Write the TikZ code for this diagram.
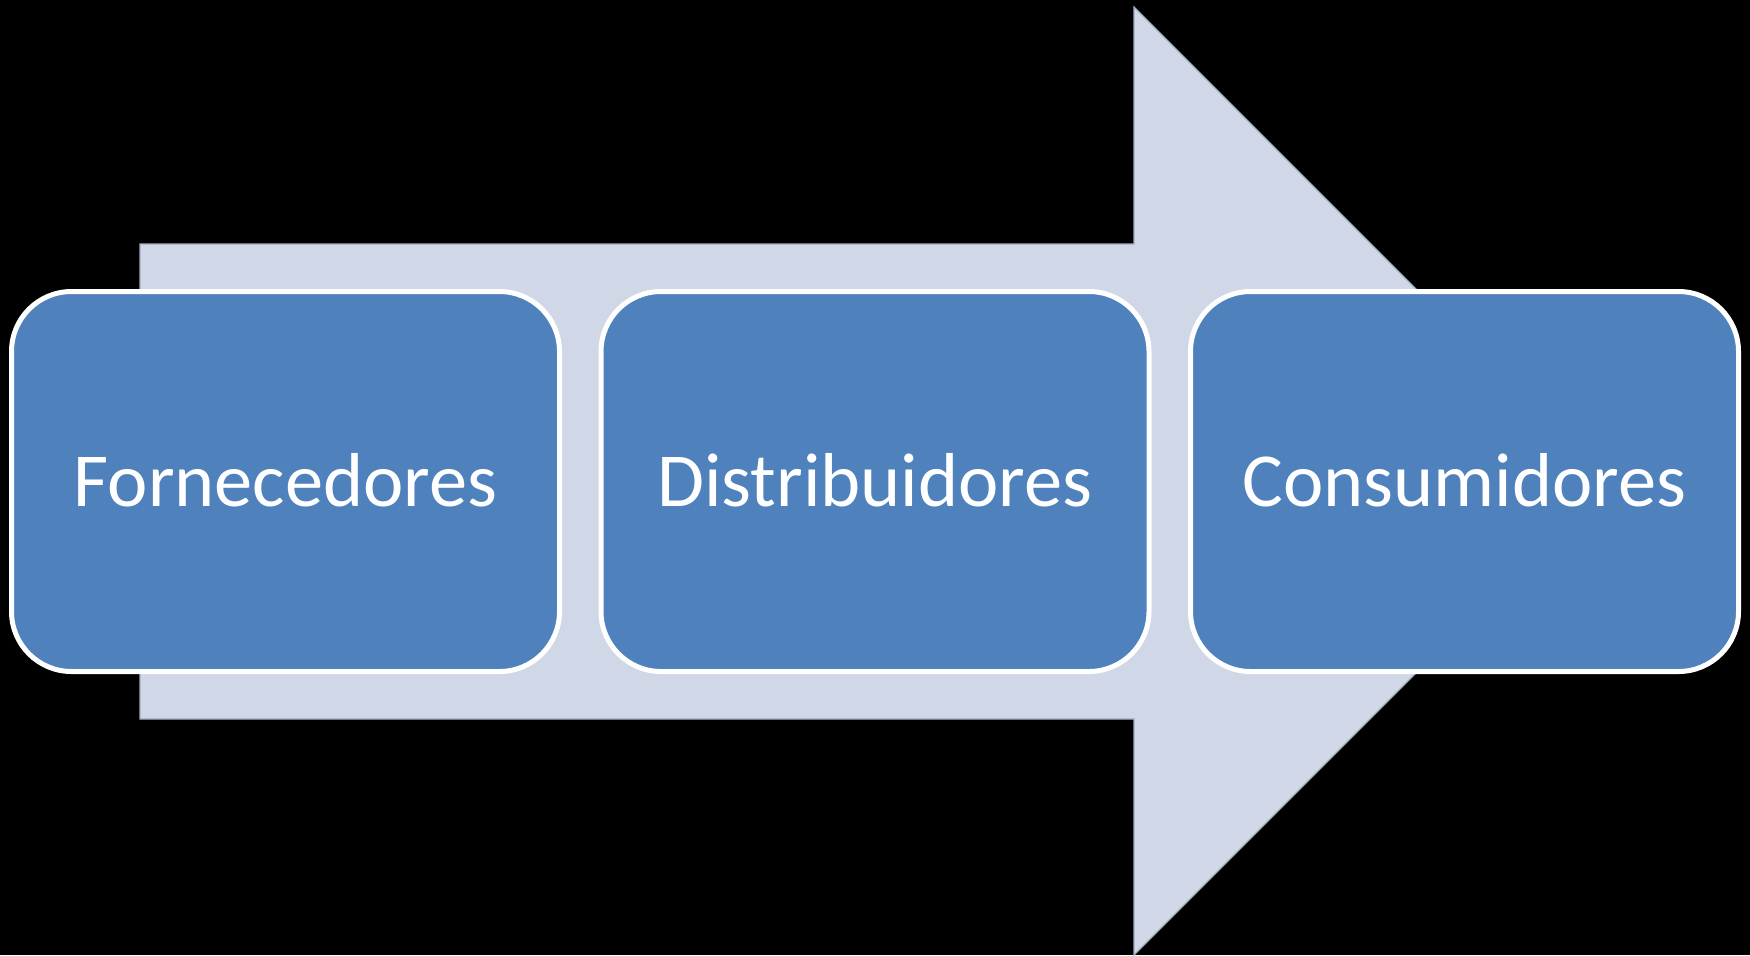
\documentclass[tikz,border=0pt]{standalone}
\usepackage{fontspec}
\setmainfont{Carlito}
\definecolor{boxblue}{HTML}{4F81BD}
\definecolor{arrowfill}{HTML}{D0D8E8}
\definecolor{arrowline}{HTML}{A3ACBD}
\tikzset{
  stagebox/.style={draw=white, line width=2.5pt, fill=boxblue, rounded corners=30pt,
    minimum width=274pt, minimum height=190pt, inner sep=0pt,
    text=white, font=\fontsize{38.2}{46}\selectfont, text height=24.6pt, text depth=0pt},
  bigarrow/.style={fill=arrowfill, draw=arrowline, line width=0.6pt, line join=miter}
}
\begin{document}
\begin{tikzpicture}[x=0.5pt,y=-0.5pt]
  \fill[black] (0,0) rectangle (1750,955);
  \useasboundingbox (0,0) rectangle (1750,955);
  \draw[bigarrow] (140,244) -- (1134,244) -- (1134,7) -- (1608,481) -- (1134,955) -- (1134,719) -- (140,719) -- cycle;
  \node[stagebox] (forn) at (285.5,481.5) {Fornecedores};
  \node[stagebox] (dist) at (875,481.5) {Distribuidores};
  \node[stagebox] (cons) at (1464.5,481.5) {Consumidores};
\end{tikzpicture}
\end{document}
